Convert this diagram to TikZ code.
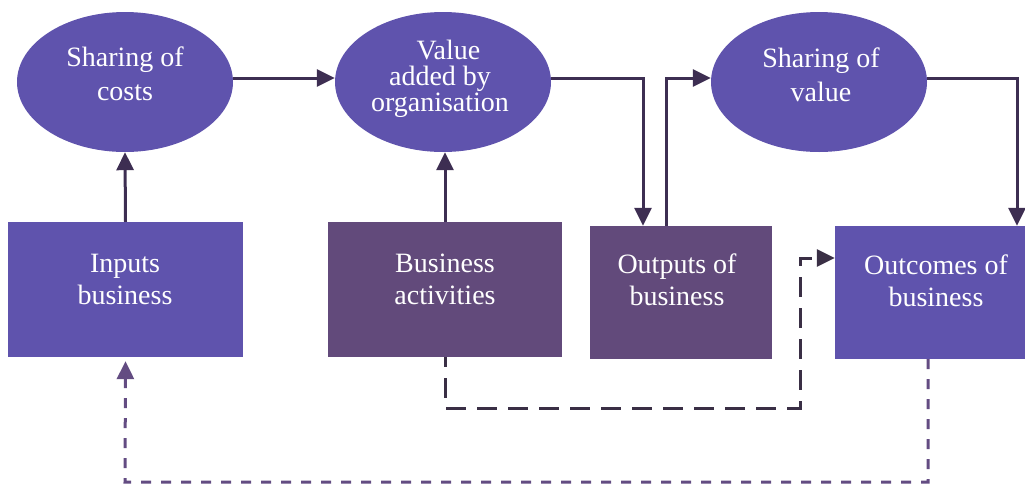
\documentclass[tikz,border=0pt]{standalone}
\usepackage{fontspec}
\setmainfont{Liberation Serif}
\usetikzlibrary{arrows.meta,shapes.geometric}

\definecolor{ovalfill}{HTML}{5F53AD}
\definecolor{darkbox}{HTML}{624A7B}
\definecolor{linecol}{HTML}{3D2E52}
\definecolor{dashdark}{HTML}{3A2F45}
\definecolor{dashpurple}{HTML}{634C82}

\tikzset{
  oval/.style={ellipse, fill=ovalfill, draw=none, minimum width=216pt, minimum height=140pt, inner sep=0pt},
  bluebox/.style={rectangle, fill=ovalfill, draw=none, inner sep=0pt},
  plumbox/.style={rectangle, fill=darkbox, draw=none, inner sep=0pt},
  lbl/.style={text=white, align=center, inner sep=0pt, font=\fontsize{28}{34}\selectfont},
  lbltight/.style={lbl, font=\fontsize{28}{26}\selectfont},
  lblbox/.style={lbl, font=\fontsize{28}{32}\selectfont},
  tip/.style={-{Triangle[length=18pt,width=17pt]}},
  arr/.style={tip, draw=linecol, line width=3pt},
  dashline/.style={tip, draw=dashdark, line width=3pt, dash pattern=on 20pt off 11pt},
  dotline/.style={tip, draw=dashpurple, line width=3pt, dash pattern=on 10pt off 10pt}
}

\begin{document}
\begin{tikzpicture}[x=1pt,y=-1pt]
\useasboundingbox (0,0) rectangle (1025,485);

% ovals
\node[oval] (costs) at (125,82) {};
\node[oval] (added) at (443,82) {};
\node[oval] (value) at (819,82) {};
\node[lbl] (costsT) at (125,74) {Sharing of\\costs};
\node[lbltight] (addedT) at (440,79) {\hspace*{0.6em}Value\\added by\\organisation};
\node[lbl] (valueT) at (821,75) {Sharing of\\value};

% boxes
\node[bluebox, minimum width=235pt, minimum height=135pt] (inputs) at (125.5,289.5) {};
\node[plumbox, minimum width=234pt, minimum height=135pt] (activ) at (445,289.5) {};
\node[plumbox, minimum width=182pt, minimum height=133pt] (outputs) at (681,292.5) {};
\node[bluebox, minimum width=190pt, minimum height=133pt] (outcomes) at (930,292.5) {};
\node[lblbox] (inputsT) at (125,279) {Inputs\\business};
\node[lblbox] (activT) at (445,279) {Business\\activities};
\node[lblbox] (outputsT) at (677,280) {Outputs of\\business};
\node[lblbox] (outcomesT) at (936,281) {Outcomes of\\business};

% solid connectors
\draw[arr] (inputs.north) -- (costs.south);
\draw[arr] (activ.north) -- (activ.north |- added.south);
\draw[arr] ([yshift=4pt]costs.east) -- ([yshift=4pt]added.west);
\draw[arr] ([yshift=4pt]added.east) -| ([xshift=-38pt]outputs.north);
\draw[arr] ([xshift=-15pt]outputs.north) |- ([yshift=4pt]value.west);
\draw[arr] ([yshift=4pt]value.east) -| ([xshift=87pt]outcomes.north);

% dashed connectors
\coordinate (dA) at (445,408);
\coordinate (dB) at (800,408);
\coordinate (dC) at (800,258);
\draw[dashline, dash phase=10pt] (activ.south) -- (dA) -- (dB) -- (dC) -- (dC -| outcomes.west);

\coordinate (fA) at (928,482);
\coordinate (fB) at (125,482);
\draw[dotline] (928,359) -- (fA) -- (fB) -- ([yshift=-4pt]inputs.south);
\end{tikzpicture}
\end{document}
